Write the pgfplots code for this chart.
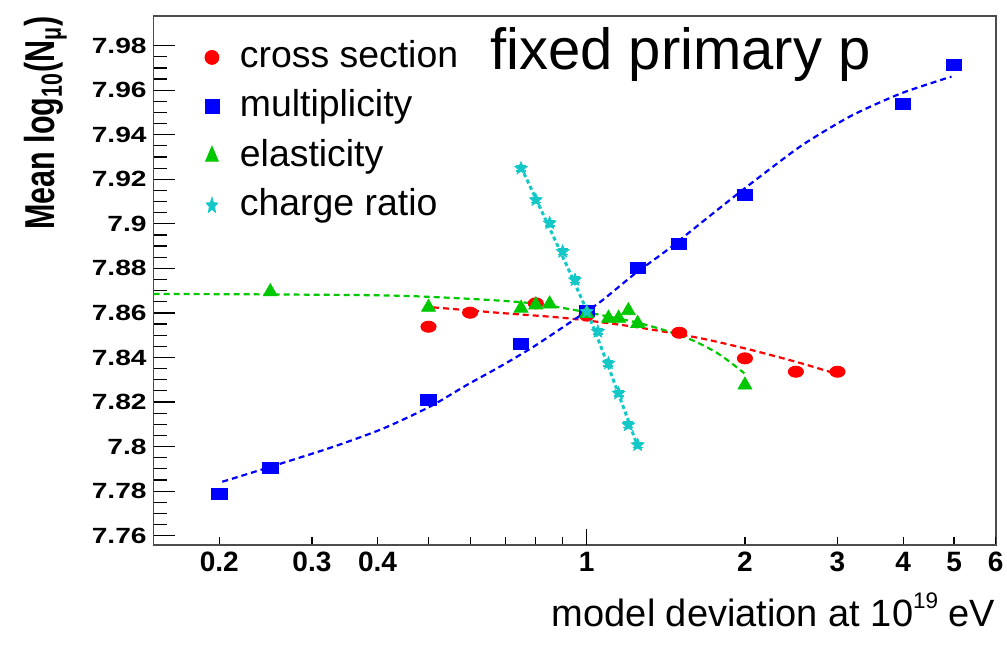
\documentclass[border=0pt]{standalone}
\usepackage{pgfplots}
\pgfplotsset{compat=1.18}
\usepackage{fontspec}
\setmainfont{Liberation Sans}
\usepackage{graphicx}

\definecolor{cred}{RGB}{255,0,0}
\definecolor{cblue}{RGB}{0,0,255}
\definecolor{cgreen}{RGB}{0,200,0}
\definecolor{ccyan}{RGB}{20,200,200}

\pgfdeclareplotmark{fstar}{%
 \pgfpathmoveto{\pgfpointpolar{90}{\pgfplotmarksize}}%
 \pgfpathlineto{\pgfpointpolar{126}{0.45\pgfplotmarksize}}%
 \pgfpathlineto{\pgfpointpolar{162}{\pgfplotmarksize}}%
 \pgfpathlineto{\pgfpointpolar{198}{0.45\pgfplotmarksize}}%
 \pgfpathlineto{\pgfpointpolar{234}{\pgfplotmarksize}}%
 \pgfpathlineto{\pgfpointpolar{270}{0.45\pgfplotmarksize}}%
 \pgfpathlineto{\pgfpointpolar{306}{\pgfplotmarksize}}%
 \pgfpathlineto{\pgfpointpolar{342}{0.45\pgfplotmarksize}}%
 \pgfpathlineto{\pgfpointpolar{18}{\pgfplotmarksize}}%
 \pgfpathlineto{\pgfpointpolar{54}{0.45\pgfplotmarksize}}%
 \pgfpathclose\pgfusepathqfillstroke}

\newcommand\yt[1]{\scalebox{1.28}[1]{#1}}

\begin{document}
\begin{tikzpicture}
\useasboundingbox (0,0) rectangle (503.5pt,322.5pt);
\begin{axis}[
  at={(76.85pt,50pt)}, anchor=south west,
  scale only axis, width=421pt, height=264.5pt,
  xmode=log, xmin=0.15, xmax=6, ymin=7.7558, ymax=7.9933,
  axis line style={draw=black!70, line width=0.8pt},
  xtick=\empty,
  ytick={7.76,7.78,7.80,7.82,7.84,7.86,7.88,7.90,7.92,7.94,7.96,7.98},
  yticklabels={\yt{7.76},\yt{7.78},\yt{7.8},\yt{7.82},\yt{7.84},\yt{7.86},\yt{7.88},\yt{7.9},\yt{7.92},\yt{7.94},\yt{7.96},\yt{7.98}},
  minor y tick num=3,
  major tick length=10.5pt, minor tick length=6.5pt,
  ytick pos=left, tick align=inside,
  tick style={black, line width=0.6pt},
  yticklabel style={font=\fontsize{11}{13}\selectfont\bfseries},
  clip=false,
  legend cell align=left,
  legend image code/.code={\draw[mark repeat=2,mark phase=2,#1,every mark/.append style={scale=1.25,xscale=0.735}] plot coordinates {(0pt,0pt)(8pt,0pt)(16pt,0pt)};},
  legend style={draw=none, fill=none, inner sep=0pt, at={(rel axis cs:0.0604,0.9565)}, anchor=north west,
    font=\fontsize{18.7}{22}\selectfont, row sep=6.7pt,
    nodes={inner sep=0pt, text height=14pt, text depth=4pt},
    /tikz/every odd column/.append style={column sep=10.5pt}},
]
% fit curves
\addplot[cred, line width=1.1pt, dash pattern=on 3pt off 2pt, smooth, forget plot] coordinates {
 (0.51,7.8625) (0.684,7.8600) (0.918,7.8576) (1.229,7.8538) (1.648,7.8486) (2.053,7.8434) (2.558,7.8374) (2.96,7.8329)};
\addplot[cblue, line width=1.1pt, dash pattern=on 3pt off 2pt, smooth, tension=0.4, forget plot] coordinates {
 (0.2026,7.7842) (0.251,7.7910) (0.3286,7.7998) (0.409,7.8080) (0.503,7.8179) (0.591,7.8276) (0.684,7.8359) (0.792,7.8448) (0.944,7.8568) (1.062,7.8650) (1.229,7.8772) (1.424,7.8883) (1.648,7.9003) (2,7.9160) (2.558,7.9350) (3.186,7.9485) (3.968,7.9586) (4.944,7.9661)};
\addplot[cgreen, line width=1.1pt, dash pattern=on 3pt off 2pt, smooth, forget plot] coordinates {
 (0.15,7.8685) (0.25,7.8683) (0.441,7.8677) (0.684,7.8655) (0.852,7.8632) (1.229,7.8560) (1.531,7.8493) (1.774,7.8419) (1.995,7.8329)};
\addplot[ccyan, line width=1.5pt, dash pattern=on 2pt off 1.5pt, smooth, forget plot] coordinates {
 (0.75,7.9255) (1,7.8610) (1.25,7.8000)};
% data
\addplot[only marks, mark=*, mark size=2.8pt, mark options={xscale=1.36, fill=cred, draw=cred}] coordinates {
 (0.5,7.8538) (0.6,7.8601) (0.8,7.8643) (1,7.8590) (1.5,7.8511) (2,7.8396) (2.5,7.8336) (3,7.8336)};
\addlegendentry{cross section}
\addplot[only marks, mark=square*, mark size=2.8pt, mark options={xscale=1.36, fill=cblue, draw=cblue}] coordinates {
 (0.2,7.7787) (0.25,7.7904) (0.5,7.8209) (0.75,7.8460) (1,7.8609) (1.25,7.8802) (1.5,7.8910) (2,7.9130) (4,7.9538) (5,7.9713)};
\addlegendentry{multiplicity}
\addplot[only marks, mark=triangle*, mark size=4pt, mark options={fill=cgreen, draw=cgreen}] coordinates {
 (0.25,7.8695) (0.5,7.8625) (0.75,7.8621) (0.8,7.8636) (0.85,7.8640) (1,7.8598) (1.1,7.8576) (1.15,7.8576) (1.2,7.8610) (1.25,7.8553) (2,7.8276)};
\addlegendentry{elasticity}
\addplot[only marks, mark=fstar, mark size=3.3pt, mark options={fill=ccyan, draw=ccyan},
  error bars/.cd, y dir=both, y fixed=0.0012,
  error bar style={ccyan, line width=0.8pt},
  error mark options={rotate=90, mark size=2.5pt, ccyan, line width=0.8pt}] coordinates {
 (0.75,7.9249) (0.8,7.9107) (0.85,7.9003) (0.9,7.8875) (0.95,7.8748) (1,7.8605) (1.05,7.8516) (1.1,7.8374) (1.15,7.8239) (1.2,7.8097) (1.25,7.8007)};
\addlegendentry{charge ratio}
\node[anchor=base west, inner sep=0pt, font=\fontsize{29}{34}\selectfont] at (rel axis cs:0.3994,0.898) {fixed primary p};
\node[anchor=base east, inner sep=0pt, font=\fontsize{19}{23}\selectfont, yshift=-40.85pt] at (rel axis cs:1,0) {model deviation at 10\raisebox{9.3pt}{\fontsize{11.25}{13}\selectfont 19} eV};
\end{axis}
\begin{axis}[
  at={(76.85pt,50pt)}, anchor=south west,
  scale only axis, width=421pt, height=264.5pt,
  xmode=log, xmin=0.15, xmax=6, ymin=7.7558, ymax=7.9933,
  hide y axis, axis x line*=bottom,
  axis line style={draw=black!70, line width=0.8pt, -},
  xtick={0.2,0.3,0.4,2,3,4,5,6},
  xticklabels={0.2,0.3,0.4,2,3,4,5,6},
  minor xtick={0.5,0.6,0.7,0.8,0.9},
  extra x ticks={1}, extra x tick labels={1},
  extra x tick style={major tick length=8pt},
  major tick length=4pt, minor tick length=4pt,
  tick align=inside, xtick pos=bottom,
  tick style={black, line width=0.6pt},
  xticklabel style={font=\fontsize{14}{16}\selectfont\bfseries},
]
\addplot[draw=none, forget plot] coordinates {(1,7.8)};
\end{axis}
\node[rotate=90, anchor=base west, inner sep=0pt] at (27.5pt,207.5pt) {\scalebox{1}[1.37]{\fontsize{15.25}{18}\selectfont\bfseries Mean log\textsubscript{10}(N\textsubscript{μ})}};
\end{tikzpicture}
\end{document}
